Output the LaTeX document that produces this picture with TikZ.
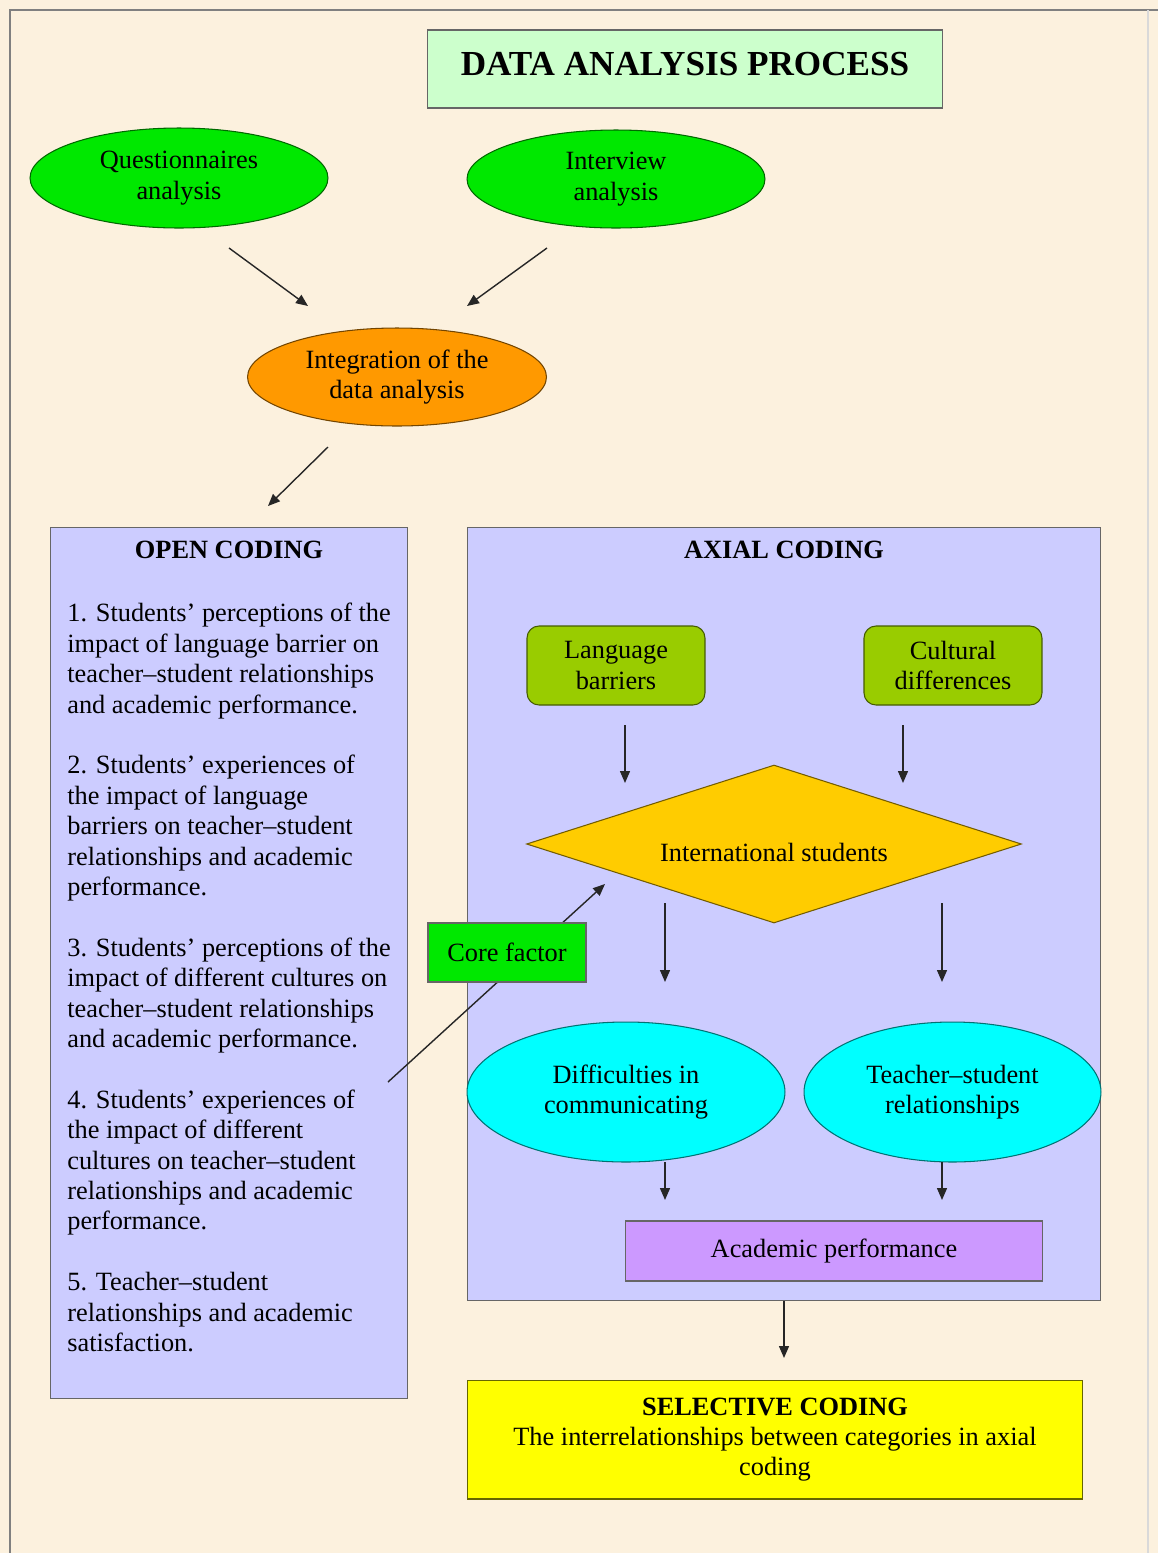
\documentclass[tikz,border=0pt]{standalone}
\usepackage{fontspec}
\setmainfont{Liberation Serif}
\usetikzlibrary{shapes.geometric, arrows.meta}

\definecolor{parchment}{RGB}{252,241,222}
\definecolor{mint}{RGB}{204,255,204}
\definecolor{leaf}{RGB}{0,232,0}
\definecolor{amber}{RGB}{255,153,0}
\definecolor{lavender}{RGB}{204,204,255}
\definecolor{olive}{RGB}{153,204,0}
\definecolor{gold}{RGB}{255,204,0}
\definecolor{aqua}{RGB}{0,255,255}
\definecolor{lilac}{RGB}{204,153,255}
\definecolor{lemon}{RGB}{255,255,0}

\begin{document}
\begin{tikzpicture}[x=0.02cm, y=-0.02cm, >={Triangle[length=2.4mm,width=2mm]},
    font=\fontsize{15}{17.3}\selectfont,
    every node/.style={inner sep=0pt},
    oval/.style={ellipse, draw=#1!45!black, fill=#1, line width=0.6pt, align=center},
    box/.style={rectangle, draw=black!60, fill=#1, line width=0.6pt, align=center},
    rbox/.style={box=#1, draw=#1!45!black, rounded corners=0.24cm},
    heading/.style={font=\fontsize{15}{17.3}\selectfont\bfseries},
    listtext/.style={align=left, anchor=north west},
    link/.style={->, line width=0.8pt, black!85},
    frame/.style={draw=black!50, line width=1pt}]

    % Background
    \fill[parchment] (0,0) rectangle (1158,1553);
    \useasboundingbox (0,0) rectangle (1158,1553);
    \draw[frame] (10,1553) -- (10,10) -- (1158,10);
    \draw[frame, draw=black!15] (1148,10) -- (1148,1553);

    % Title and data sources
    \node[box=mint, minimum width=10.32cm, minimum height=1.56cm, text height=0.9cm, text depth=0.66cm,
          font=\fontsize{20}{24}\selectfont\bfseries] (Title) at (685,69) {DATA ANALYSIS PROCESS};
    \node[oval=leaf, minimum width=5.96cm, minimum height=2cm] (Quest) at (179,178) {Questionnaires\\analysis};
    \node[oval=leaf, minimum width=5.96cm, minimum height=1.96cm] (Interview) at (616,179) {Interview\\analysis};
    \node[oval=amber, minimum width=5.98cm, minimum height=1.96cm] (Integration) at (397,377) {Integration of the\\data analysis};

    % Open coding
    \node[box=lavender, minimum width=7.16cm, minimum height=17.44cm] (Open) at (229,963) {};
    \node[heading] (OpenTitle) at (229,550) {OPEN CODING};
    \node[listtext] (OpenList) at (67,603) {%
        1. Students’ perceptions of the\\ impact of language barrier on\\ teacher–student relationships\\ and academic performance.\\[17.3pt]
        2. Students’ experiences of\\ the impact of language\\ barriers on teacher–student\\ relationships and academic\\ performance.\\[17.3pt]
        3. Students’ perceptions of the\\ impact of different cultures on\\ teacher–student relationships\\ and academic performance.\\[17.3pt]
        4. Students’ experiences of\\ the impact of different\\ cultures on teacher–student\\ relationships and academic\\ performance.\\[17.3pt]
        5. Teacher–student\\ relationships and academic\\ satisfaction.};

    % Axial coding
    \node[box=lavender, minimum width=12.68cm, minimum height=15.48cm] (Axial) at (784,914) {};
    \node[heading] (AxialTitle) at (784,550) {AXIAL CODING};
    \node[rbox=olive, minimum width=3.56cm, minimum height=1.58cm] (Language) at (616,665.5) {Language\\barriers};
    \node[rbox=olive, minimum width=3.56cm, minimum height=1.58cm] (Cultural) at (953,665.5) {Cultural\\differences};
    \node[diamond, aspect=3.13, draw=gold!45!black, fill=gold, line width=0.6pt, minimum width=9.9cm, minimum height=3.16cm]
        (Intl) at (774,844) {\raisebox{-10pt}[0pt][0pt]{International students}};
    \node[oval=aqua, minimum width=6.36cm, minimum height=2.8cm] (Difficulties) at (626,1092) {Difficulties in\\communicating};
    \node[oval=aqua, minimum width=5.94cm, minimum height=2.8cm] (Relations) at (952.5,1092) {Teacher–student\\relationships};
    \node[box=lilac, minimum width=8.36cm, minimum height=1.2cm] (Academic) at (834,1251) {Academic performance};

    % Free arrow ends
    \coordinate (qa) at (229,248);  \coordinate (qb) at (308,306);
    \coordinate (ia) at (547,248);  \coordinate (ib) at (467,306);
    \coordinate (ga) at (328,447);  \coordinate (gb) at (268,506);
    \coordinate (la) at (625,725);  \coordinate (lb) at (625,783);
    \coordinate (ca) at (903,725);  \coordinate (cb) at (903,783);
    \coordinate (da) at (665,903);  \coordinate (db) at (665,982);
    \coordinate (ta) at (942,903);  \coordinate (tb) at (942,982);
    \coordinate (dc) at (665,1162); \coordinate (dd) at (665,1200);
    \coordinate (tc) at (942,1162); \coordinate (td) at (942,1200);
    \coordinate (fa) at (388,1082); \coordinate (fb) at (605,884);
    \coordinate (sb) at (784,1358);

    % Arrows
    \path[link]
        (qa) edge (qb)
        (ia) edge (ib)
        (ga) edge (gb)
        (la) edge (lb)
        (ca) edge (cb)
        (da) edge (db)
        (ta) edge (tb)
        (dc) edge (dd)
        (tc) edge (td)
        (fa) edge (fb)
        (Axial.south) edge (sb);

    % Core factor sits over its arrow
    \node[box=leaf, minimum width=3.16cm, minimum height=1.18cm] (Core) at (507,952.5) {Core factor};

    % Selective coding
    \node[box=lemon, draw=lemon!40!black, minimum width=12.32cm, minimum height=2.38cm] (Selective) at (775,1439.5)
        {\textbf{SELECTIVE CODING}\\The interrelationships between categories in axial\\coding};
\end{tikzpicture}
\end{document}
